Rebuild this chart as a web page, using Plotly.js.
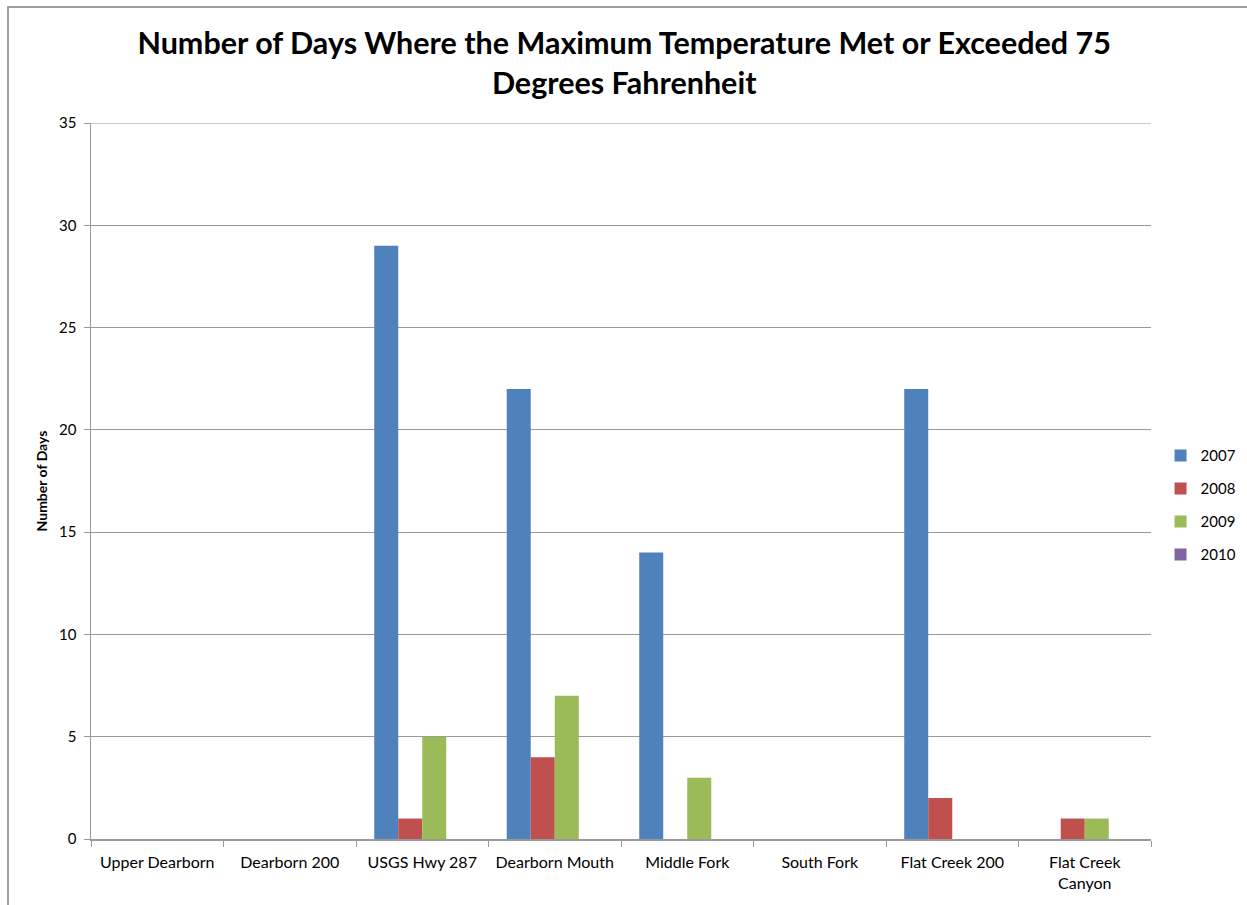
<!DOCTYPE html>
<html>
<head>
<meta charset="utf-8">
<script src="https://cdn.plot.ly/plotly-3.0.1.min.js"></script>
<style>
  html, body { margin: 0; padding: 0; background: #fff; overflow: hidden; }
  #frame { position: absolute; left: 7px; top: 6px; width: 1400px; height: 1100px; border: 2px solid #a0a0a0; box-sizing: border-box; }
  #chart { position: absolute; left: 0; top: 0; width: 1247px; height: 905px; }
</style>
</head>
<body>
<div id="frame"></div>
<div id="chart"></div>
<script>
const categories = ["Upper Dearborn", "Dearborn 200", "USGS Hwy 287", "Dearborn Mouth", "Middle Fork", "South Fork", "Flat Creek 200", "Flat Creek<br>Canyon"];
const seriesNames = ["2007", "2008", "2009", "2010"];
const values2007 = [0, 0, 29, 22, 14, 0, 22, 0];
const values2008 = [0, 0, 1, 4, 0, 0, 2, 1];
const values2009 = [0, 0, 5, 7, 3, 0, 0, 1];
const values2010 = [0, 0, 0, 0, 0, 0, 0, 0];
const colors = ["#4f81bd", "#c0504d", "#9bbb59", "#8064a2"];
const yTicks = [0, 5, 10, 15, 20, 25, 30, 35];
const yMax = 35;

const allValues = [values2007, values2008, values2009, values2010];
const traces = allValues.map((v, i) => ({
  type: "bar",
  name: seriesNames[i],
  x: categories,
  y: v,
  marker: { color: colors[i], line: { width: 0 } },
  legendgroup: "g" + i,
  hoverinfo: "x+y+name"
}));

const font = "Lato, 'Open Sans', 'Liberation Sans', sans-serif";
const gridCol = "#999999";
const layout = {
  width: 1247,
  height: 905,
  paper_bgcolor: "rgba(0,0,0,0)",
  plot_bgcolor: "rgba(0,0,0,0)",
  margin: { l: 91, r: 96, t: 123, b: 66, pad: 0, autoexpand: false },
  barmode: "group",
  bargap: 0.275,
  bargroupgap: 0,
  title: {
    text: "<b>Number of Days Where the Maximum Temperature Met or Exceeded 75<br>Degrees Fahrenheit</b>",
    font: { family: font, size: 30.5, color: "#000" },
    x: 0.503, xanchor: "center", xref: "paper",
    y: 0.94, yanchor: "middle", yref: "container"
  },
  xaxis: {
    type: "category",
    tickson: "boundaries",
    ticks: "outside",
    ticklen: 6,
    tickcolor: gridCol,
    showline: true,
    linecolor: gridCol,
    linewidth: 1.5,
    showgrid: false,
    ticklabelstandoff: 8,
    tickfont: { family: font, size: 16, color: "#000" },
    fixedrange: true
  },
  yaxis: {
    range: [0, yMax],
    tickvals: yTicks,
    ticktext: yTicks.map(String),
    ticks: "outside",
    ticklen: 6,
    tickcolor: gridCol,
    showline: true,
    linecolor: gridCol,
    linewidth: 1.5,
    showgrid: true,
    gridcolor: gridCol,
    gridwidth: 1,
    zeroline: false,
    ticklabelstandoff: 4,
    tickfont: { family: font, size: 15, color: "#000" },
    title: { text: "<b>Number of Days</b>", font: { family: font, size: 14, color: "#000" }, standoff: 8 },
    fixedrange: true
  },
  shapes: [{
    type: "line", xref: "paper", yref: "y",
    x0: 0, x1: 1, y0: yMax, y1: yMax,
    line: { color: gridCol, width: 1 }
  }],
  legend: {
    x: 1.009, xanchor: "left",
    y: 0.466, yanchor: "middle",
    font: { family: font, size: 15, color: "#000" },
    traceorder: "grouped",
    tracegroupgap: 10.5,
    itemwidth: 30,
    itemclick: false,
    itemdoubleclick: false
  },
  showlegend: true
};

Plotly.newPlot("chart", traces, layout, { displayModeBar: false, staticPlot: true });
</script>
</body>
</html>
